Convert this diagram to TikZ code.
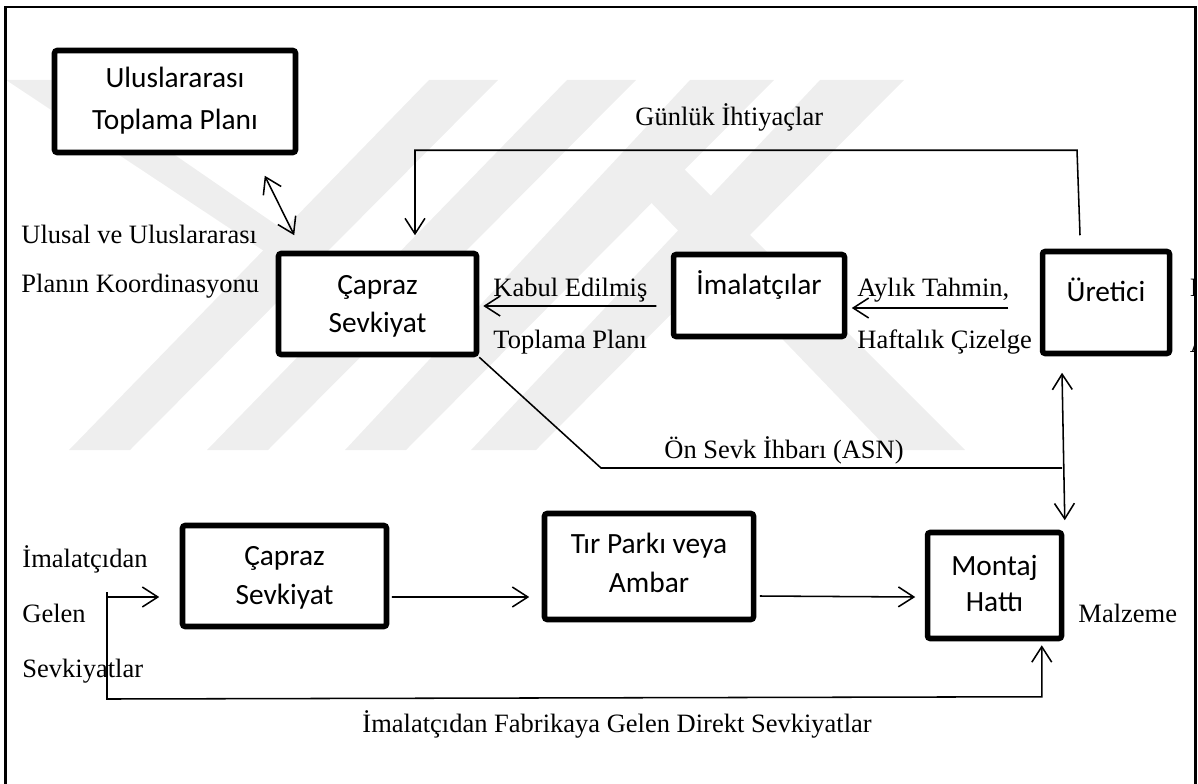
\documentclass[tikz,border=0pt]{standalone}
\usepackage{fontspec}
\setmainfont{Liberation Serif}
\newfontfamily\boxfont{Carlito}
\usetikzlibrary{arrows.meta,calc}
\definecolor{wmark}{gray}{0.935}
\begin{document}
\begin{tikzpicture}[x=0.4528pt,y=-0.4528pt,
  box/.style={draw,line width=2.5pt,fill=white,rounded corners=1.2pt,inner sep=0},
  btxt/.style={inner sep=0,anchor=base,font=\boxfont\fontsize{13.3}{16}\selectfont},
  lbl/.style={inner sep=0,anchor=base west,font=\fontsize{12}{14}\selectfont},
  conn/.style={line width=0.7pt},
  arr/.style={conn,-{Straight Barb[length=7pt,width=9pt,line width=0.7pt]}},
  darr/.style={conn,{Straight Barb[length=7pt,width=9pt,line width=0.7pt]}-{Straight Barb[length=7pt,width=9pt,line width=0.7pt]}}]
\useasboundingbox (0,0) rectangle (1198,783);
% watermark
\fill[wmark] (6,80) -- (66,80) -- (320,255) -- (270,255) -- cycle;
\fill[wmark] (429,80) -- (498,80) -- (130,450) -- (69,450) -- cycle;
\fill[wmark] (567,80) -- (636,80) -- (268,450) -- (207,450) -- cycle;
\fill[wmark] (690,80) -- (774,80) -- (406,450) -- (345,450) -- cycle;
\fill[wmark] (820,80) -- (904,80) -- (536,450) -- (471,450) -- cycle;
\fill[wmark] (615,165) -- (680,165) -- (965,450) -- (889,450) -- cycle;
% frame
\draw[line width=1.1pt] (5.5,790) -- (5.5,7) -- (1195.5,7) -- (1195.5,790);
% boxes
\node[box,minimum width=241*0.4528pt,minimum height=102*0.4528pt] (U) at (175,101.5) {};
\node[box,minimum width=198*0.4528pt,minimum height=101*0.4528pt] (C1) at (377.5,304) {};
\node[box,minimum width=171*0.4528pt,minimum height=82*0.4528pt] (I) at (759,295.5) {};
\node[box,minimum width=127*0.4528pt,minimum height=102*0.4528pt] (UR) at (1106,302.5) {};
\node[box,minimum width=204*0.4528pt,minimum height=101*0.4528pt] (C2) at (284.5,576) {};
\node[box,minimum width=209*0.4528pt,minimum height=106*0.4528pt] (T) at (649,566.5) {};
\node[box,minimum width=134*0.4528pt,minimum height=106*0.4528pt] (M) at (994.5,585.5) {};
% box texts
\node[btxt] (u1) at (175,88) {Uluslararası};
\node[btxt] (u2) at (175,130) {Toplama Planı};
\node[btxt] (c11) at (377.5,294) {Çapraz};
\node[btxt] (c12) at (377.5,332) {Sevkiyat};
\node[btxt] (i1) at (759,294) {İmalatçılar};
\node[btxt] (ur1) at (1106,301) {Üretici};
\node[btxt] (c21) at (284.5,565) {Çapraz};
\node[btxt] (c22) at (284.5,604) {Sevkiyat};
\node[btxt] (t1) at (649,553) {Tır Parkı veya};
\node[btxt] (t2) at (649,592) {Ambar};
\node[btxt] (m1) at (994.5,575) {Montaj};
\node[btxt] (m2) at (994.5,611) {Hattı};
% labels
\node[lbl] (l1) at (21,243) {Ulusal ve Uluslararası};
\node[lbl] (l2) at (21,292) {Planın Koordinasyonu};
\node[lbl] (l3) at (635,125) {Günlük İhtiyaçlar};
\node[lbl] (l4) at (493,296) {Kabul Edilmiş};
\node[lbl] (l5) at (493,348) {Toplama Planı};
\node[lbl] (l6) at (857,296) {Aylık Tahmin,};
\node[lbl] (l7) at (857,348) {Haftalık Çizelge};
\node[lbl] (l8) at (664,458) {Ön Sevk İhbarı (ASN)};
\node[lbl] (l9) at (22,567) {İmalatçıdan};
\node[lbl] (l10) at (22,622) {Gelen};
\node[lbl] (l11) at (22,677) {Sevkiyatlar};
\node[lbl] (l12) at (1078,622) {Malzeme};
\node[lbl] (l13) at (362,732) {İmalatçıdan Fabrikaya Gelen Direkt Sevkiyatlar};
\begin{scope}
\clip (0,0) rectangle (1194.5,783);
\node[lbl] (f1) at (1189.5,296) {I};
\node[lbl] (f2) at (1189.5,352) {A};
\end{scope}
% connectors
\draw[darr] ($(U.south east)+(-33.5,20.5)$) -- ($(C1.north west)+(18.5,-15.5)$);
\draw[arr] ($(UR.north)+(-26,-13.5)$) -- ++(-3,-85) -| ($(C1.north)+(37.5,-15.5)$);
\draw[arr] ($(I.west)+(-14.5,10.5)$) -- ($(C1.east)+(4,2)$);
\draw[arr] ($(UR.west)+(-31.5,5.5)$) -- ($(I.east)+(4.5,12.5)$);
\coordinate (asncorner) at (601,468);
\coordinate (asnjoin) at (1062,468);
\draw[conn] (C1.south east) -- (asncorner) -- (asnjoin);
\draw[darr] ($(UR.south)+(-44,16.5)$) -- ($(M.north east)+(0.5,-9.5)$);
\coordinate (gin) at (107,597);
\coordinate (gtop) at (107,592);
\coordinate (gbot) at (107,699);
\draw[arr] (gin) -- ($(C2.west)+(-20.5,21)$);
\draw[arr] (gtop) -- (gbot) -- ($(M.south east)+(-22.5,55.5)$) -- ($(M.south east)+(-22.5,4)$);
\draw[arr] ($(C2.east)+(2.5,21)$) -- ($(T.west)+(-12.5,30.5)$);
\draw[arr] ($(T.east)+(3.5,29.5)$) -- ($(M.west)+(-9.5,11.5)$);
\end{tikzpicture}
\end{document}
